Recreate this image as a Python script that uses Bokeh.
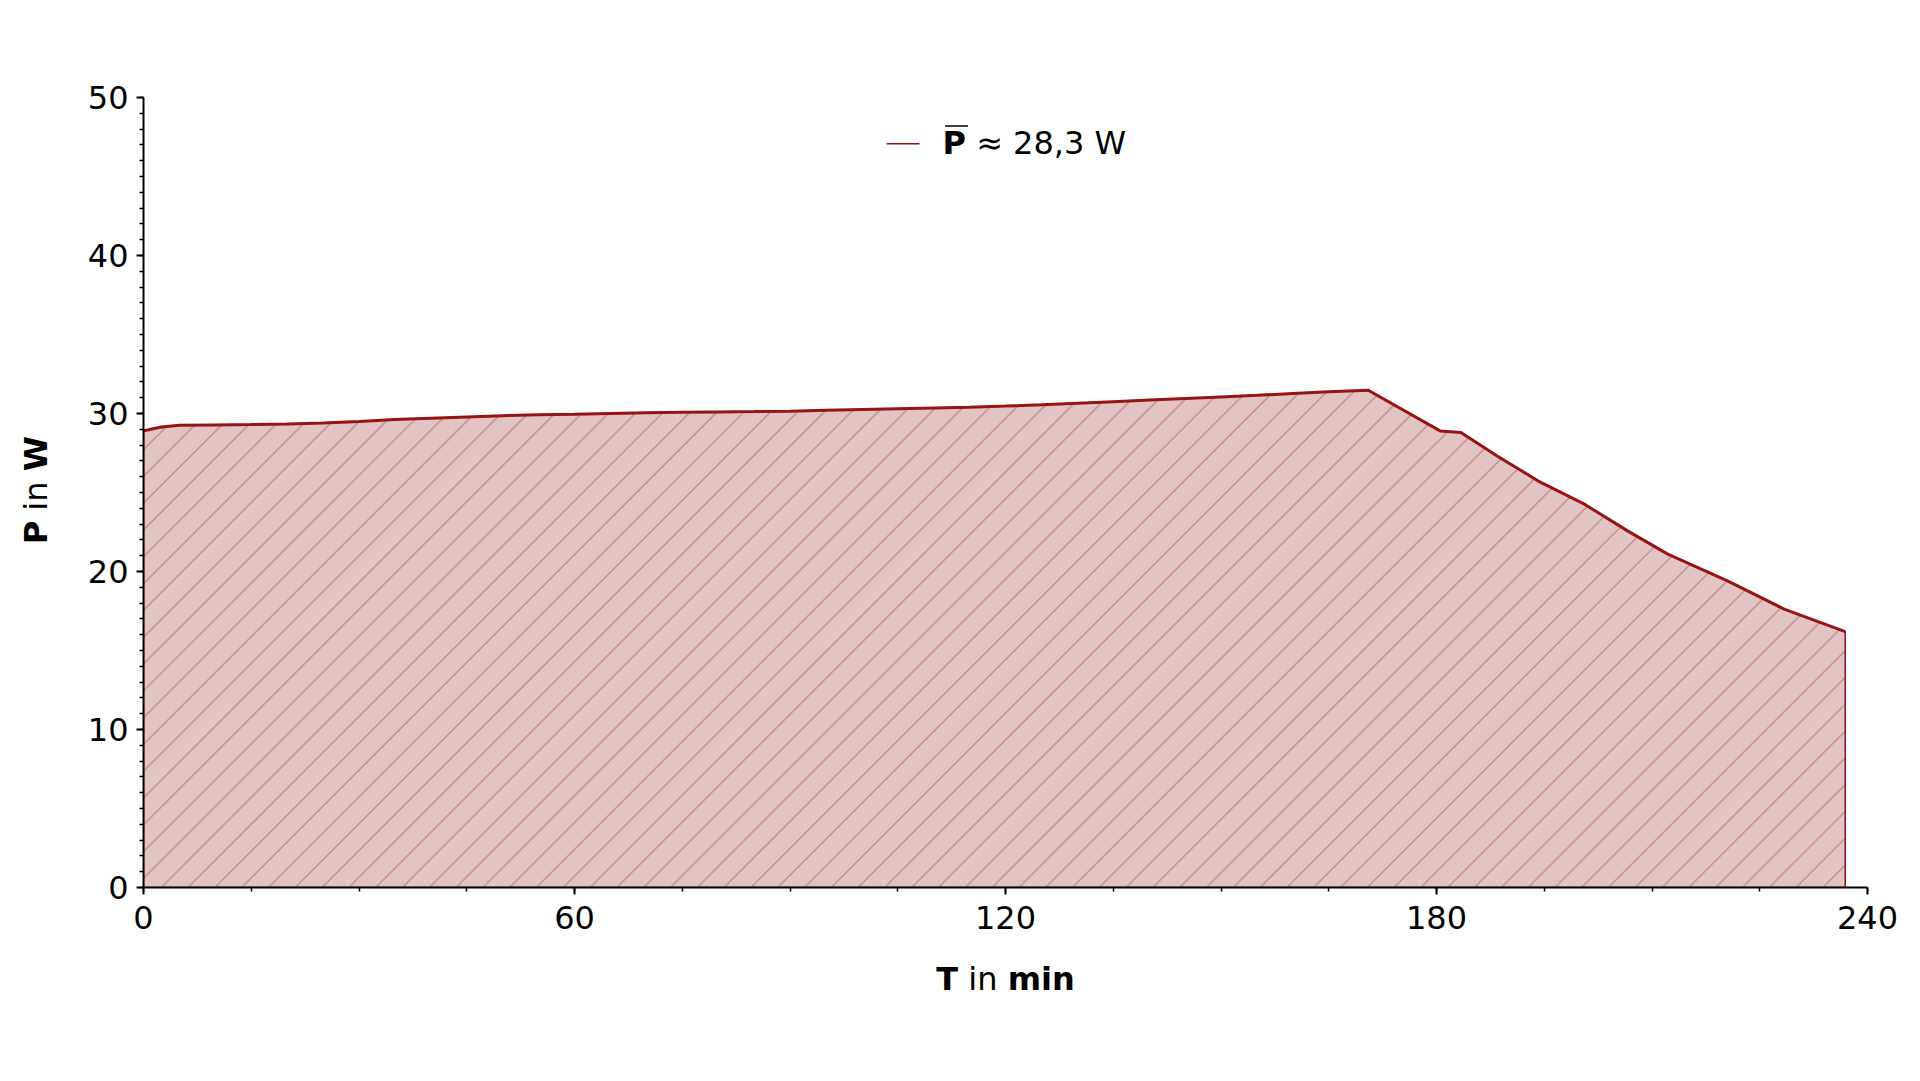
import numpy as np
from bokeh.plotting import figure
from bokeh.models import Label, SingleIntervalTicker, Range1d
from bokeh.embed import file_html
from bokeh.resources import INLINE

# ---------------- data ----------------
T_MIN = [0, 1, 2.5, 5, 10, 15, 20, 25, 30, 35, 40, 45, 50, 55, 60, 65, 70, 75, 80,
         85, 90, 95, 100, 105, 110, 115, 120, 125, 130, 135, 140, 145, 150, 155,
         160, 165, 170.5, 180.5, 183.4, 188.5, 194.1, 200.6, 206.6, 212.2, 220.5,
         228.4, 236.9]
P_W = [28.9, 29.0, 29.15, 29.25, 29.28, 29.3, 29.33, 29.4, 29.5, 29.62, 29.7, 29.78,
       29.86, 29.92, 29.95, 30.0, 30.05, 30.08, 30.1, 30.12, 30.15, 30.2, 30.25,
       30.3, 30.35, 30.4, 30.47, 30.55, 30.65, 30.75, 30.85, 30.95, 31.05, 31.15,
       31.27, 31.38, 31.47, 28.9, 28.8, 27.3, 25.74, 24.26, 22.57, 21.1, 19.41,
       17.62, 16.2]
X_TICKS = [0, 60, 120, 180, 240]
Y_TICKS = [0, 10, 20, 30, 40, 50]
MEAN_TEXT = "\u2248 28,3 W"

# ---------------- layout / style ----------------
FL, FT, FW, FH = 143, 97, 1724, 790
X0, X1, Y0, Y1 = 0, 240, 0, 50
FONT = "DejaVu Sans"
FS = 32
DARK = "#961414"
FILL = "#e2c4c4"
HATCH = "#c99292"
SH = 11.5                 # alphabetic-baseline offset of Bokeh labels (px)
HATCH_SP, HATCH_PH = 26.8, 17.7

KX = FW / (X1 - X0)
KY = FH / (Y1 - Y0)

def dx(px):
    return (px - FL) / KX + X0

def dy(py):
    return (FT + FH - py) / KY + Y0

p = figure(frame_width=FW, frame_height=FH, output_backend="svg",
           toolbar_location=None, x_range=Range1d(X0, X1), y_range=Range1d(Y0, Y1),
           min_border_left=FL, min_border_top=FT, min_border_right=50,
           min_border_bottom=170)
p.outline_line_color = None
p.grid.visible = False

# area under the curve
xs_poly = list(T_MIN) + [T_MIN[-1], T_MIN[0]]
ys_poly = list(P_W) + [0, 0]
p.patch(xs_poly, ys_poly, fill_color=FILL, line_color=None)

# 45 degree hatching clipped to the area (computed in screen pixels)
tx = (np.array(T_MIN) - X0) * KX
ty = (np.array(P_W) - Y0) * KY
xe = tx[-1]
grid = np.linspace(0, xe, 6000)
top = np.interp(grid, tx, ty)
k0 = int(np.floor((-top[0] - HATCH_PH) / HATCH_SP))
k1 = int(np.ceil((xe - HATCH_PH) / HATCH_SP))
hx, hy = [], []
for k in range(k0, k1 + 1):
    b = HATCH_PH + k * HATCH_SP          # x where the line meets the bottom
    if b > xe:
        continue
    if b >= 0:
        sx, sy = b, 0.0
    else:
        if -b >= top[0]:
            continue
        sx, sy = 0.0, -b
    d = grid - b - top
    idx = np.where((d >= 0) & (grid >= sx))[0]
    if len(idx):
        i = idx[0]
        if i > 0:
            f = -d[i - 1] / (d[i] - d[i - 1])
            ex = grid[i - 1] + f * (grid[i] - grid[i - 1])
        else:
            ex = grid[i]
        ey = ex - b
    else:
        ex, ey = xe, xe - b
    hx.append([sx / KX + X0, ex / KX + X0])
    hy.append([sy / KY + Y0, ey / KY + Y0])
p.multi_line(hx, hy, line_color=HATCH, line_width=1.6)

p.patch(xs_poly, ys_poly, fill_color=None, line_color=DARK, line_width=1.5)
p.line(T_MIN, P_W, line_color=DARK, line_width=3)

for ax, ticks, minor in ((p.xaxis[0], X_TICKS, 4), (p.yaxis[0], Y_TICKS, 10)):
    ax.ticker = SingleIntervalTicker(interval=ticks[1] - ticks[0], num_minor_ticks=minor)
    ax.axis_line_width = 2
    ax.axis_line_color = "black"
    ax.major_tick_line_width = 2
    ax.minor_tick_line_width = 1.5
    ax.major_tick_out = 7
    ax.major_tick_in = 0
    ax.minor_tick_out = 4
    ax.minor_tick_in = 0
    ax.major_label_text_font = FONT
    ax.major_label_text_font_size = f"{FS}px"
    ax.major_label_text_color = "black"
p.xaxis[0].major_label_standoff = 11
p.yaxis[0].major_label_standoff = 8

def mk(text, bold=False, **kw):
    return Label(text=text, text_font=FONT, text_font_size=f"{FS}px",
                 text_font_style="bold" if bold else "normal",
                 text_baseline="alphabetic", text_color="black", **kw)

# advances of DejaVu Sans glyphs (em)
W_SP = 0.318 * FS
W_T = 0.682 * FS
W_IN = (0.278 + 0.634) * FS
W_MIN = (1.042 + 0.343 + 0.712) * FS
W_P = 0.733 * FS
W_W = 1.029 * FS

# x-axis label: **T** in **min**
xc = FL + FW / 2
xs = xc - (W_T + W_SP + W_IN + W_SP + W_MIN) / 2
ya = dy(990 - SH)
p.add_layout(mk("T", True, x=dx(xs), y=ya), "left")
p.add_layout(mk("in", False, x=dx(xs + W_T + W_SP), y=ya), "left")
p.add_layout(mk("min", True, x=dx(xs + W_T + W_SP + W_IN + W_SP), y=ya), "below")

# y-axis label: **P** in **W** (rotated)
yc = 490.8
ys0 = yc + (W_P + W_SP + W_IN + W_SP + W_W) / 2
xa = dx(47 - SH)
for txt, off, b in (("P", 0, True), ("in", W_P + W_SP, False),
                    ("W", W_P + W_SP + W_IN + W_SP, True)):
    p.add_layout(mk(txt, b, x=xa, y=dy(ys0 - off), angle=np.pi / 2), "above")

# legend (inside frame)
p.line([dx(886), dx(919)], [dy(143.3), dy(143.3)], line_color=DARK, line_width=1.5)
p.add_layout(mk("P", True, x=dx(942), y=dy(154 - SH)))
p.line([dx(944.5), dx(967.5)], [dy(125.5), dy(125.5)], line_color="black", line_width=1.6)
p.add_layout(mk(MEAN_TEXT, x=dx(942 + W_P + W_SP), y=dy(154 - SH)))

open("out.html", "w").write(file_html(p, INLINE))
